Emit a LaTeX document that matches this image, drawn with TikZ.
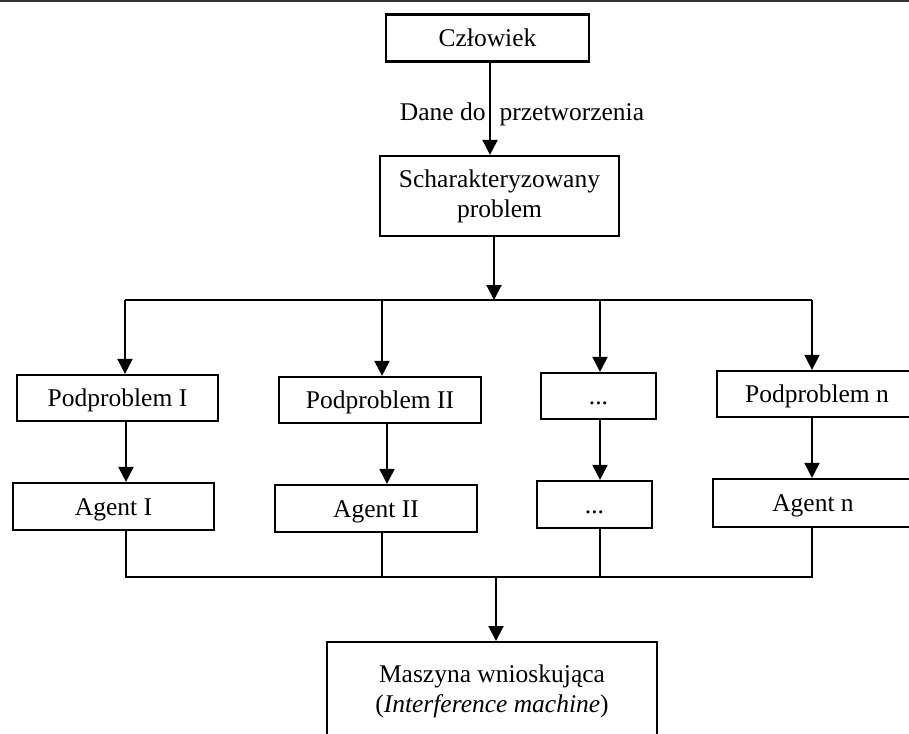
\documentclass[tikz,border=0pt]{standalone}
\usepackage{fontspec}
\setmainfont{Liberation Serif}
\usetikzlibrary{arrows.meta}
\begin{document}
\begin{tikzpicture}[x=1pt,y=-1pt,
  txt/.style={font=\fontsize{25.5}{30}\selectfont},
  box/.style={draw,line width=2.2pt,inner sep=0pt,align=center,txt},
  oneline/.style={text height=22.5pt,text depth=5.5pt},
  link/.style={line width=2pt},
  arr/.style={link,-{Triangle[width=15pt,length=15pt]}},
  lbl/.style={inner sep=0pt,align=center,txt}]
\useasboundingbox (0,0) rectangle (909,733);
\clip (0,0) rectangle (909,733);
\fill[white] (0,0) rectangle (909,733);
% rule along the top edge
\draw[line width=2.2pt,black!80] (0,1) -- (909,1);

% top of the chain
\node[box,oneline,minimum width=203,minimum height=47] (czl) at (487.5,38) {Człowiek};
\node[box,minimum width=239,minimum height=80] (sch) at (499.5,196) {Scharakteryzowany\\problem};
\node[lbl,oneline] (dane) at (522,112) {Dane do\hspace{0.55em}przetworzenia};
\coordinate (a1) at (490,0);
\draw[arr] (a1 |- czl.south) -- (a1 |- sch.north);

% distribution bus
\coordinate (a2) at (494,300);
\coordinate (b1) at (125,300);
\coordinate (b2) at (382,300);
\coordinate (b3) at (600,300);
\coordinate (b4) at (812,300);
\draw[arr] (a2 |- sch.south) -- (a2);
\draw[link] (b1) -- (b4);

% subproblems
\node[box,oneline,minimum width=201,minimum height=46] (p1) at (117.5,398) {Podproblem I};
\node[box,oneline,minimum width=202,minimum height=46] (p2) at (380,400) {Podproblem II};
\node[box,oneline,minimum width=115,minimum height=46] (p3) at (598.5,396) {...};
\node[box,oneline,minimum width=200,minimum height=46] (p4) at (817,394) {Podproblem n};

\draw[arr] (b1) -- (b1 |- p1.north);
\draw[arr] (b2) -- (b2 |- p2.north);
\draw[arr] (b3) -- (b3 |- p3.north);
\draw[arr] (b4) -- (b4 |- p4.north);

% agents
\node[box,oneline,minimum width=201,minimum height=47] (g1) at (113.5,506.5) {Agent I};
\node[box,oneline,minimum width=202,minimum height=47] (g2) at (376,508.5) {Agent II};
\node[box,oneline,minimum width=115,minimum height=47] (g3) at (594.5,504.5) {...};
\node[box,oneline,minimum width=200,minimum height=48] (g4) at (813,503) {Agent n};

\coordinate (d1) at (126,0);
\coordinate (d2) at (387,0);
\coordinate (d3) at (600,0);
\coordinate (d4) at (812,0);
\draw[arr] (d1 |- p1.south) -- (d1 |- g1.north);
\draw[arr] (d2 |- p2.south) -- (d2 |- g2.north);
\draw[arr] (d3 |- p3.south) -- (d3 |- g3.north);
\draw[arr] (d4 |- p4.south) -- (d4 |- g4.north);

% collecting bus
\coordinate (c1) at (126,577);
\coordinate (c2) at (382,577);
\coordinate (c3) at (600,577);
\coordinate (c4) at (812,577);
\draw[link] (c1 |- g1.south) -- (c1) -- (c4) -- (c4 |- g4.south);
\draw[link] (c2 |- g2.south) -- (c2);
\draw[link] (c3 |- g3.south) -- (c3);

% inference engine
\node[box,minimum width=330,minimum height=139,anchor=north] (mw) at (492,641) {};
\node[lbl] (mwt) at (492,691) {Maszyna wnioskująca\\(\textit{Interference machine})};
\coordinate (m0) at (496,577);
\draw[arr] (m0) -- (m0 |- mw.north);
\end{tikzpicture}
\end{document}
